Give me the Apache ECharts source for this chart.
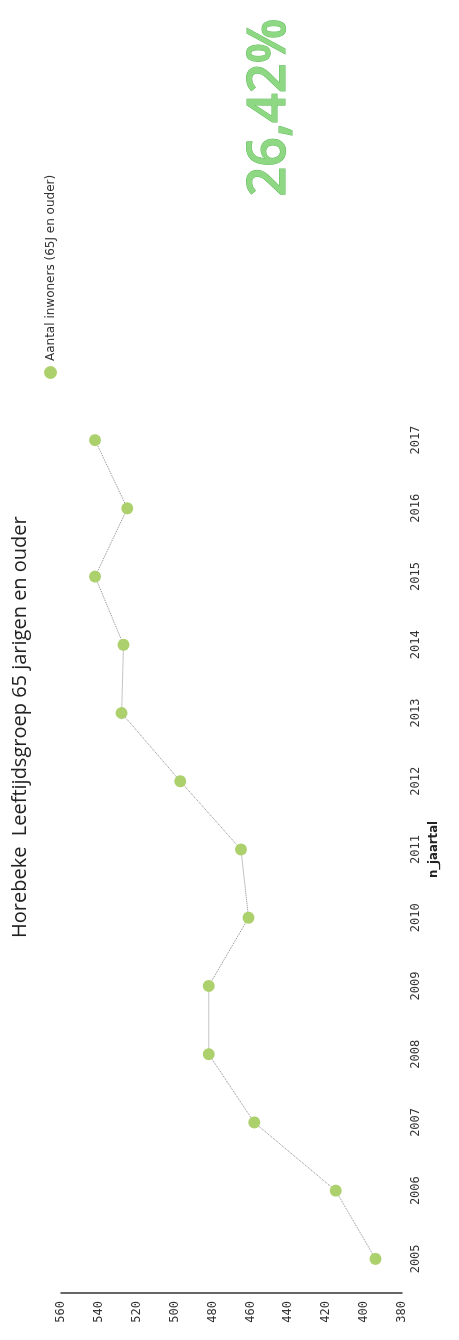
<!DOCTYPE html>
<html>
<head>
<meta charset="utf-8">
<script src="https://cdn.jsdelivr.net/npm/echarts@6/dist/echarts.min.js"></script>
<style>
  html, body { margin: 0; padding: 0; width: 459px; height: 1340px; overflow: hidden; background: #fff; }
  #chart {
    position: absolute; left: 0; top: 0;
    width: 1340px; height: 459px;
    transform-origin: 0 0;
    transform: translate(0, 1340px) rotate(-90deg);
  }
</style>
</head>
<body>
<div id="chart"></div>
<script>
const years = ['2005','2006','2007','2008','2009','2010','2011','2012','2013','2014','2015','2016','2017'];
const inwoners65 = [394, 415, 458, 482, 482, 461, 465, 497, 528, 527, 542, 525, 542];
const valueTicks = { min: 380, max: 560, interval: 20 };
const titleText = 'Horebeke  Leeftijdsgroep 65 jarigen en ouder';
const seriesName = 'Aantal inwoners (65J en ouder)';
const xAxisName = 'n_jaartal';
const percentText = '26,42%';

const chart = echarts.init(document.getElementById('chart'), null, { renderer: 'canvas' });
chart.setOption({
  backgroundColor: '#ffffff',
  animation: false,
  title: {
    text: titleText,
    left: 397,
    top: 5,
    textStyle: { fontFamily: 'Open Sans', fontSize: 20, fontWeight: 'normal', color: '#222' }
  },
  legend: {
    data: [{ name: seriesName, icon: 'circle' }],
    left: 956,
    top: 39,
    itemWidth: 13,
    itemHeight: 13,
    itemGap: 6,
    textStyle: { fontFamily: 'DejaVu Sans', fontSize: 12, color: '#333' }
  },
  graphic: [{
    type: 'text',
    left: 1143,
    top: 244,
    style: {
      text: percentText,
      font: '600 52px "Open Sans"',
      fill: '#8fd883',
      stroke: '#5dbb5a',
      lineWidth: 1
    }
  }],
  grid: { left: 47, right: 406, top: 61, bottom: 57, containLabel: false },
  xAxis: {
    type: 'category',
    data: years,
    boundaryGap: true,
    name: xAxisName,
    nameLocation: 'middle',
    nameGap: 24,
    nameTextStyle: { fontFamily: 'DejaVu Sans Condensed', fontSize: 13, fontWeight: 'bold', color: '#222' },
    axisLine: { show: false },
    axisTick: { show: false },
    axisLabel: { margin: 8, fontFamily: 'DejaVu Sans Mono', fontSize: 12, color: '#333' },
    splitLine: { show: false }
  },
  yAxis: {
    type: 'value',
    min: valueTicks.min,
    max: valueTicks.max,
    interval: valueTicks.interval,
    axisLine: { show: true, lineStyle: { color: '#333', width: 1.5 } },
    axisTick: { show: false },
    axisLabel: { margin: 8, fontFamily: 'DejaVu Sans Mono', fontSize: 12, color: '#333' },
    splitLine: { show: false }
  },
  series: [{
    name: seriesName,
    type: 'line',
    data: inwoners65,
    symbol: 'circle',
    symbolSize: 12,
    itemStyle: { color: '#acd06c' },
    lineStyle: { color: '#8a8a8a', width: 1, type: 'dotted' }
  }]
});
</script>
</body>
</html>
